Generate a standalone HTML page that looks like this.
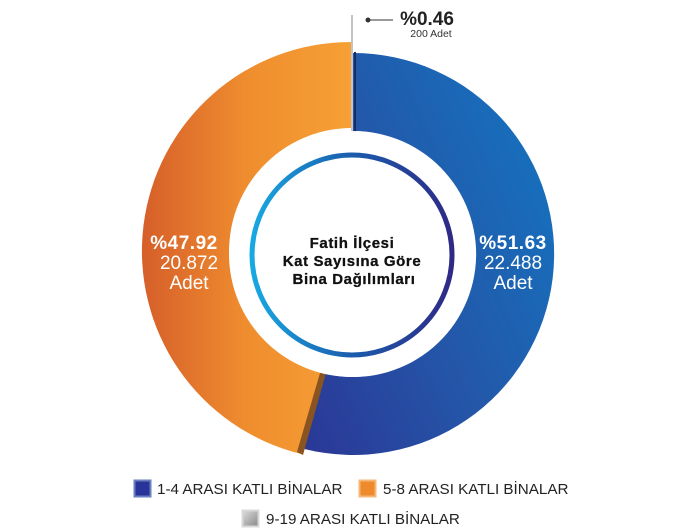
<!DOCTYPE html>
<html><head><meta charset="utf-8"><style>
html,body{margin:0;padding:0;background:#fff;width:685px;height:528px;overflow:hidden;font-family:"Liberation Sans","DejaVu Sans",sans-serif;}
</style></head><body>
<svg width="685" height="528" viewBox="0 0 685 528" xmlns="http://www.w3.org/2000/svg">
<defs>
<linearGradient id="gb" x1="0" y1="1" x2="1" y2="0.3">
<stop offset="0" stop-color="#2b3796"/><stop offset="0.5" stop-color="#2456a8"/><stop offset="1" stop-color="#1670bd"/></linearGradient>
<linearGradient id="go" x1="0" y1="0" x2="1" y2="0">
<stop offset="0" stop-color="#d65f2a"/><stop offset="0.5" stop-color="#ef8d2e"/><stop offset="1" stop-color="#f6a035"/></linearGradient>
<linearGradient id="gr" x1="0" y1="0" x2="1" y2="0">
<stop offset="0" stop-color="#18a8e2"/><stop offset="0.5" stop-color="#1b5cad"/><stop offset="1" stop-color="#2e2a86"/></linearGradient>
<linearGradient id="gg" x1="0" y1="0" x2="1" y2="1"><stop offset="0" stop-color="#ddd"/><stop offset="1" stop-color="#888"/></linearGradient>
</defs>
<path d="M300.4,453.8 A209,209 0 0 1 351,42 L351,128 A123,123 0 0 0 321,370 Z" fill="url(#go)"/>
<path d="M353,53 A201,201 0 1 1 304.4,449 L323.2,373.3 A123,123 0 1 0 353,131 Z" fill="url(#gb)"/>
<polygon points="297,452 303,455 326,373 320,373" fill="#8a5420"/>
<line x1="352" y1="15" x2="352" y2="133" stroke="#c4c4c4" stroke-width="2"/>
<line x1="355" y1="52" x2="355" y2="132" stroke="#1a2a66" stroke-width="2"/>
<circle cx="352" cy="254" r="123" fill="#fff"/>
<circle cx="352" cy="255" r="100" fill="none" stroke="url(#gr)" stroke-width="5"/>
<circle cx="368" cy="20" r="2.5" fill="#333"/>
<line x1="368" y1="20" x2="393" y2="20" stroke="#333" stroke-width="1"/>
<text x="427" y="25" font-size="19" font-weight="bold" fill="#222" text-anchor="middle">%0.46</text>
<text x="431" y="37" font-size="10.5" fill="#333" text-anchor="middle">200 Adet</text>
<g fill="#fff" text-anchor="middle">
<text x="184" y="249" font-size="19" font-weight="bold" letter-spacing="0.5">%47.92</text>
<text x="189" y="269" font-size="19">20.872</text>
<text x="189" y="289" font-size="19">Adet</text>
<text x="513" y="249" font-size="19" font-weight="bold" letter-spacing="0.5">%51.63</text>
<text x="513" y="269" font-size="19">22.488</text>
<text x="513" y="289" font-size="19">Adet</text>
</g>
<g fill="#111" font-size="15" font-weight="bold" text-anchor="middle" letter-spacing="0.6" stroke="#111" stroke-width="0.3">
<text x="352" y="248">Fatih İlçesi</text>
<text x="352" y="266">Kat Sayısına Göre</text>
<text x="354" y="284">Bina Dağılımları</text>
</g>
<rect x="134.5" y="480.5" width="16" height="16" fill="#28349a" stroke="#6a7fc0" stroke-width="2"/>
<text x="157" y="494" font-size="15.2" fill="#222">1-4 ARASI KATLI BİNALAR</text>
<rect x="359.5" y="480.5" width="16" height="16" fill="#ef8a2c" stroke="#f6b878" stroke-width="2"/>
<text x="383" y="494" font-size="15.2" fill="#222">5-8 ARASI KATLI BİNALAR</text>
<rect x="242.5" y="510.5" width="16" height="16" fill="url(#gg)" stroke="#d8d8d8" stroke-width="2"/>
<text x="266" y="524" font-size="15.2" fill="#222">9-19 ARASI KATLI BİNALAR</text>
</svg>
</body></html>
